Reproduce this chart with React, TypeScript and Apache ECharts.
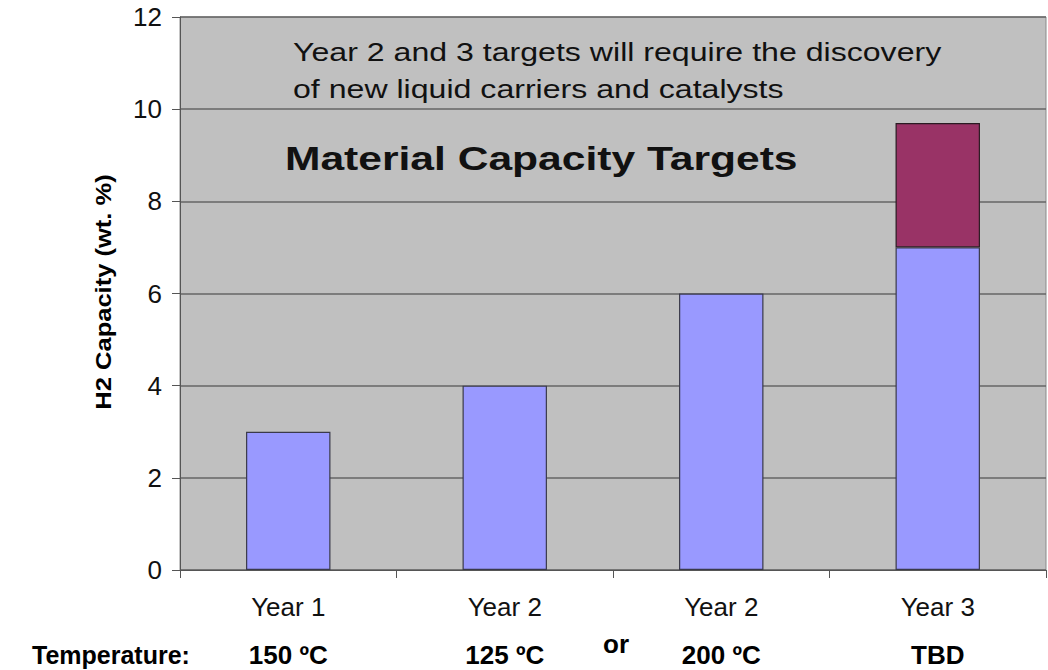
import React, { useEffect, useRef } from "react";
import * as echarts from "echarts";

const categories = ["Year 1", "Year 2", "Year 2", "Year 3"];
const temperatures = ["150 ºC", "125 ºC", "200 ºC", "TBD"];
const baseTargets = [3, 4, 6, 7];
const extraTargets: (number | string)[] = ["-", "-", "-", 2.7];
const yTicks = { min: 0, max: 12, interval: 2 };
const noteLines = [
  "Year 2 and 3 targets will require the discovery",
  "of new liquid carriers and catalysts",
];
const chartTitle = "Material Capacity Targets";
const yAxisName = "H2 Capacity (wt. %)";

const FONT = "Arial, 'Liberation Sans', Helvetica, sans-serif";

export default function App() {
  const ref = useRef<HTMLDivElement>(null);
  useEffect(() => {
    document.body.style.margin = "0";
    const chart = echarts.init(ref.current!, null, { renderer: "svg" });
    chart.setOption({
      animation: false,
      backgroundColor: "#ffffff",
      textStyle: { fontFamily: FONT },
      grid: {
        left: 180,
        top: 17,
        right: 2,
        bottom: 100,
        show: true,
        backgroundColor: "#C0C0C0",
        borderColor: "#8a8a8a",
        borderWidth: 1,
      },
      xAxis: {
        type: "category",
        data: categories.map((c, i) => c + "|" + i),
        axisLine: { lineStyle: { color: "#555", width: 1 } },
        axisTick: { show: true, length: 8, lineStyle: { color: "#555" } },
        axisLabel: {
          margin: 13,
          formatter: (_v: string, i: number) =>
            `{a|${categories[i]}}\n{b|${temperatures[i]}}`,
          rich: {
            a: { fontSize: 26, lineHeight: 48, color: "#111", fontFamily: FONT },
            b: {
              fontSize: 26,
              lineHeight: 48,
              color: "#000",
              fontWeight: "bold",
              fontFamily: FONT,
            },
          },
        },
        splitLine: { show: false },
      },
      yAxis: {
        type: "value",
        min: yTicks.min,
        max: yTicks.max,
        interval: yTicks.interval,
        axisLine: { show: true, lineStyle: { color: "#555", width: 1 } },
        axisTick: { show: true, length: 8, lineStyle: { color: "#555" } },
        axisLabel: { fontSize: 26, color: "#111", margin: 18, fontFamily: FONT },
        splitLine: { show: true, lineStyle: { color: "#666", width: 1.5 } },
      },
      series: [
        {
          type: "bar",
          stack: "cap",
          data: baseTargets,
          barWidth: "39%",
          itemStyle: { color: "#9999FF", borderColor: "#3a3a4a", borderWidth: 1.2 },
        },
        {
          type: "bar",
          stack: "cap",
          data: extraTargets,
          barWidth: "39%",
          itemStyle: { color: "#993366", borderColor: "#2a1a22", borderWidth: 1.2 },
        },
      ],
      graphic: [
        {
          type: "text",
          x: 293,
          y: 34,
          scaleX: 1.235,
          style: {
            text: noteLines.join("\n"),
            fontSize: 26,
            lineHeight: 37,
            fill: "#111",
            fontFamily: FONT,
            textBaseline: "top",
          },
        },
        {
          type: "text",
          x: 285,
          y: 142,
          scaleX: 1.29,
          style: {
            text: chartTitle,
            fontSize: 33,
            fontWeight: "bold",
            fill: "#111",
            fontFamily: FONT,
            textBaseline: "top",
          },
        },
        {
          type: "text",
          x: 103,
          y: 292,
          rotation: Math.PI / 2,
          scaleX: 1.16,
          style: {
            text: yAxisName,
            fontSize: 22,
            fontWeight: "bold",
            fill: "#000",
            fontFamily: FONT,
            align: "center",
            verticalAlign: "middle",
          },
        },
        {
          type: "text",
          x: 32,
          y: 642,
          style: {
            text: "Temperature:",
            fontSize: 25,
            fontWeight: "bold",
            fill: "#000",
            fontFamily: FONT,
            textBaseline: "top",
          },
        },
        {
          type: "text",
          x: 603,
          y: 631,
          style: {
            text: "or",
            fontSize: 26,
            fontWeight: "bold",
            fill: "#000",
            fontFamily: FONT,
            textBaseline: "top",
          },
        },
      ],
    });
    return () => chart.dispose();
  }, []);
  return (
    <div
      ref={ref}
      style={{ position: "fixed", left: 0, top: 0, width: 1048, height: 670 }}
    />
  );
}
